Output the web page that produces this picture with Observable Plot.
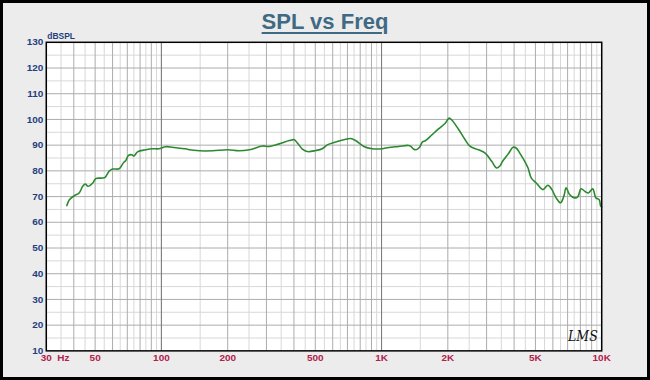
<!DOCTYPE html>
<html>
<head>
<meta charset="utf-8">
<script src="https://cdn.jsdelivr.net/npm/d3@7"></script>
<script src="https://cdn.jsdelivr.net/npm/@observablehq/plot@0.6"></script>
<style>
  html, body { margin: 0; padding: 0; background: #ffffff; }
  #wrap { position: relative; width: 650px; height: 380px; box-sizing: border-box;
          border: 3px solid #000; background: #ececec; overflow: hidden; }
  #chart { position: absolute; left: -3px; top: -3px; }
  #chart text { font-stretch: condensed; }
  #title { position: absolute; left: -3px; width: 650px; top: 6px; text-align: center;
           font: bold 22px "Liberation Sans", Arial, sans-serif; color: #3f6a83;
           text-decoration: underline; text-underline-offset: 3px; text-decoration-thickness: 2px; }
</style>
</head>
<body>
<div id="wrap">
  <div id="chart"></div>
  <div id="title">SPL vs Freq</div>
</div>
<script>
// Frequencies (Hz) and SPL (dB)
const freqs = [37.2, 38.2, 40.3, 42.3, 43.9, 45.1, 46.4, 48.8, 50.3, 54.0, 55.5, 57.8, 60.0, 64.3, 67.0, 68.9, 70.9, 73.4, 75.0, 77.9,
  85, 91, 97.5, 104.5, 112, 121, 128.6, 134, 149, 171, 200, 225, 251, 288, 309, 343, 381, 401, 415, 437,
  460, 502, 538, 567, 619, 687, 723, 762, 831, 906, 1005, 1078, 1195, 1326, 1359, 1398, 1432, 1485, 1536, 1580,
  1693, 1815, 1946, 2029, 2085, 2236, 2397, 2527, 2756, 2954, 3166, 3334, 3454, 3531, 3641, 3770, 3960, 4096, 4244, 4471,
  4628, 4790, 5046, 5408, 5697, 5940, 6212, 6503, 6730, 6893, 7140, 7521, 7785, 8058, 8401, 8702, 9106, 9404, 9741, 9900, 10000];
const spl = [66.5, 68.8, 70.4, 71.4, 74.0, 74.9, 74.0, 75.3, 77.0, 77.2, 77.5, 79.8, 80.7, 80.8, 83.0, 84.0, 86.0, 86.3, 85.8, 87.4,
  88.2, 88.6, 88.6, 89.4, 89.2, 88.8, 88.6, 88.2, 87.8, 87.8, 88.2, 87.8, 88.2, 89.7, 89.5, 90.5, 91.8, 92.1, 90.8, 88.5,
  87.5, 87.9, 88.6, 90.1, 91.2, 92.3, 92.6, 91.8, 89.5, 88.6, 88.6, 89.1, 89.5, 89.9, 89.5, 88.5, 88.2, 89.1, 91.3, 91.7,
  94.0, 96.3, 98.5, 100.5, 99.8, 96.2, 92.1, 89.5, 88.2, 86.9, 83.7, 81.1, 82.0, 83.5, 85.0, 86.7, 89.2, 88.8, 86.9, 83.7,
  81.1, 77.2, 75.3, 72.7, 74.4, 72.7, 69.5, 67.6, 70.1, 73.4, 70.8, 69.5, 69.9, 73.0, 72.0, 71.4, 73.0, 69.5, 68.8, 66.2, 66.0];

// Axis ticks and labels
const xTicks = [30, 50, 100, 200, 500, 1000, 2000, 5000, 10000];
const xLabels = ["30", "50", "100", "200", "500", "1K", "2K", "5K", "10K"];
const yTicks = [10, 20, 30, 40, 50, 60, 70, 80, 90, 100, 110, 120, 130];

// Grid
const decades = [10, 100, 1000, 10000];
const gridMajorX = [], gridMinorX = [];
for (const d of decades) {
  for (let m = 1; m <= 9; m++) { const v = d * m; if (v >= 30 && v <= 10000) gridMajorX.push(v); }
  for (let m = 1.5; m < 10; m += 1) { const v = d * m; if (v > 30 && v < 10000) gridMinorX.push(v); }
}
const gridDecadeX = [100, 1000];
const gridMajorY = d3.range(20, 130, 10);
const gridMinorY = d3.range(15, 130, 10);

const data = freqs.map((f, i) => ({f, db: spl[i]}));

const font = "'Liberation Sans Narrow', 'Liberation Sans', Arial, sans-serif";

const chart = Plot.plot({
  width: 650, height: 380,
  marginLeft: 46, marginRight: 46, marginTop: 42, marginBottom: 28,
  style: {background: "transparent", overflow: "visible"},
  x: {type: "log", domain: [30, 10000], axis: null},
  y: {domain: [10, 130], axis: null},
  marks: [
    Plot.frame({fill: "white", stroke: null}),
    Plot.ruleX(gridMinorX, {stroke: "#d8d8d8", strokeWidth: 1}),
    Plot.ruleY(gridMinorY, {stroke: "#d8d8d8", strokeWidth: 1}),
    Plot.ruleX(gridMajorX, {stroke: "#ababab", strokeWidth: 1}),
    Plot.ruleY(gridMajorY, {stroke: "#ababab", strokeWidth: 1}),
    Plot.ruleX(gridDecadeX, {stroke: "#7a7a7a", strokeWidth: 1}),
    Plot.line(data, {x: "f", y: "db", stroke: "#2b8a2f", strokeWidth: 1.6, curve: "catmull-rom"}),
    Plot.frame({stroke: "#000", strokeWidth: 1.5}),
    Plot.text(xTicks, {x: d => d, y: 10, text: (d, i) => xLabels[i], dy: 7, fill: "#b3204d",
      fontFamily: font, fontWeight: "bold", fontSize: 10}),
    Plot.text([30], {x: d => d, y: 10, text: () => "Hz", dy: 7, dx: 11, textAnchor: "start", fill: "#b3204d",
      fontFamily: font, fontWeight: "bold", fontSize: 10}),
    Plot.text(yTicks, {x: 30, y: d => d, text: d => String(d), dx: -3, textAnchor: "end", fill: "#1f3f80",
      fontFamily: font, fontWeight: "bold", fontSize: 10}),
    Plot.text(["dBSPL"], {x: 30, y: 130, text: d => d, dy: -6, dx: 1, textAnchor: "start", fill: "#1f3f80",
      fontFamily: font, fontWeight: "bold", fontSize: 8.5}),
    Plot.text(["LMS"], {x: 10000, y: 10, text: d => d, dx: -4, dy: -14, textAnchor: "end", fill: "#111",
      fontFamily: "'DejaVu Serif', serif", fontStyle: "italic", fontSize: 14})
  ]
});
document.getElementById("chart").appendChild(chart);
</script>
</body>
</html>
